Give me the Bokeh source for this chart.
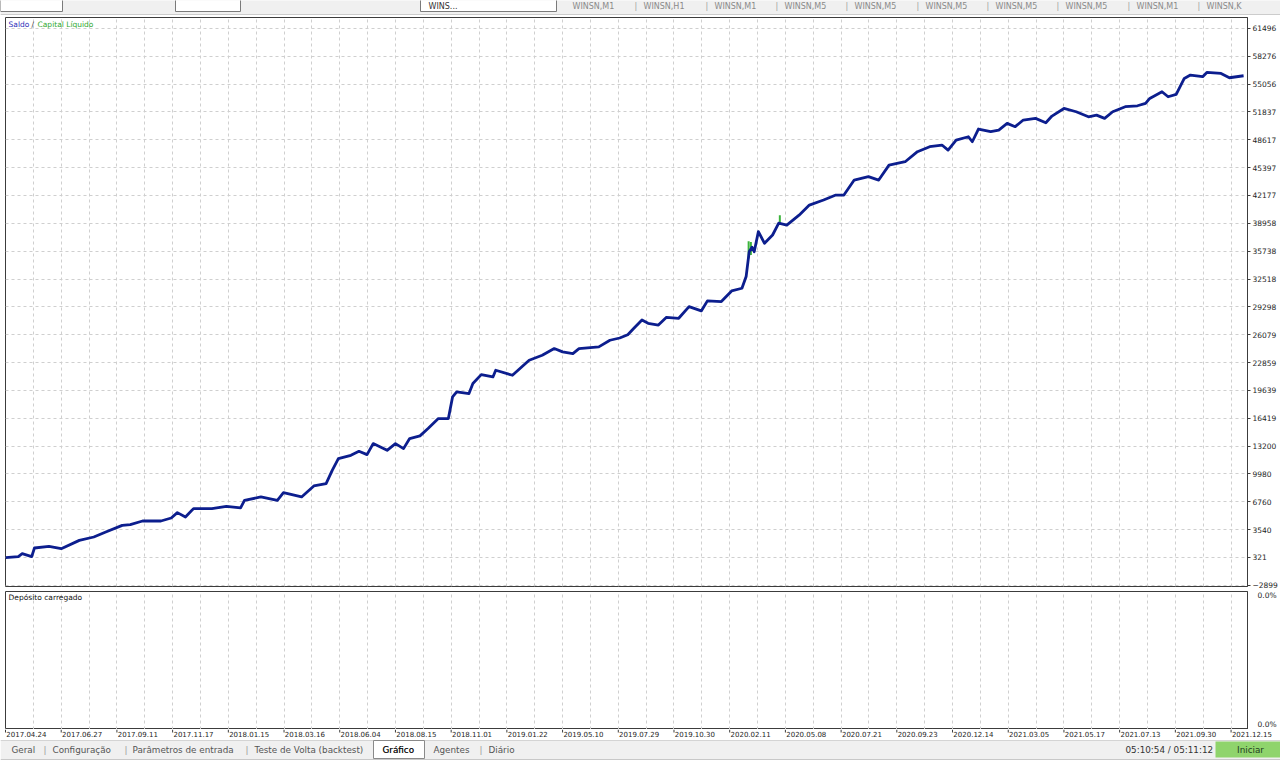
from bokeh.plotting import figure
from bokeh.models import Range1d, FixedTicker
from bokeh.layouts import column
from bokeh.embed import file_html
from bokeh.resources import INLINE
from bokeh.core.properties import value

# ---------------- data ----------------
# position along the test, in grid units (2 units per date label)
posicao = [0.0, 0.46, 0.6, 0.94, 1.04, 1.56, 2.0, 2.65, 3.17, 3.6, 4.19, 4.48, 4.92, 5.58,
           5.95, 6.17, 6.46, 6.75, 7.41, 7.93, 8.44, 8.58, 9.17, 9.76, 9.98, 10.63, 11.07,
           11.51, 11.73, 11.95, 12.4, 12.69, 12.98, 13.2, 13.7, 14.0, 14.29, 14.51, 14.88,
           15.17, 15.54, 15.9, 16.05, 16.2, 16.64, 16.78, 17.08, 17.5, 17.6, 18.2, 18.8,
           19.27, 19.7, 20.0, 20.37, 20.59, 21.3, 21.7, 22.05, 22.34, 22.56, 22.85, 23.07,
           23.44, 23.73, 24.17, 24.54, 24.98, 25.2, 25.7, 26.07, 26.44, 26.59, 26.7, 26.8,
           26.88, 27.03, 27.25, 27.54, 27.76, 28.05, 28.49, 28.86, 29.37, 29.81, 30.1, 30.47,
           30.98, 31.35, 31.72, 32.3, 32.74, 33.18, 33.62, 33.84, 34.13, 34.57, 34.71, 34.93,
           35.37, 35.66, 35.96, 36.25, 36.54, 36.98, 37.35, 37.57, 38.0, 38.44, 38.88, 39.17,
           39.46, 39.75, 40.2, 40.64, 40.93, 41.08, 41.52, 41.74, 42.03, 42.32, 42.54, 42.98,
           43.13, 43.64, 43.94, 44.45]
saldo = [300, 420, 760, 420, 1420, 1600, 1340, 2300, 2690, 3270, 4040, 4120, 4540, 4540,
         4890, 5510, 5000, 5970, 5970, 6240, 6050, 6930, 7320, 6930, 7820, 7320, 8590,
         8860, 10400, 11750, 12140, 12600, 12220, 13490, 12710, 13490, 12910, 14070, 14380,
         15230, 16380, 16380, 18890, 19470, 19270, 20430, 21470, 21200, 21970, 21390, 23130,
         23700, 24480, 24090, 23900, 24480, 24670, 25440, 25700, 26080, 26820, 27780, 27400,
         27200, 28090, 27980, 29330, 28830, 29990, 29910, 31140, 31450, 32800, 35680, 36200,
         35680, 38000, 36650, 37610, 38970, 38760, 39900, 41070, 41650, 42230, 42230, 43960,
         44350, 43960, 45690, 46080, 47240, 47820, 48010, 47430, 48580, 48970, 48390, 49860,
         49550, 49740, 50510, 50130, 50900, 51090, 50590, 51360, 52240, 51860, 51280, 51470,
         51090, 51860, 52440, 52550, 52820, 53400, 54170, 53590, 53860, 55710, 56100, 55910,
         56400, 56290, 55790, 56020]

# equity (Capital Liquido) excursions that show above the balance
capital_pos = [26.68, 26.76, 27.80]
capital_base = [34900, 35300, 38900]
capital_pico = [36900, 36800, 39900]

saldo_ticks = [-2899, 321, 3540, 6760, 9980, 13200, 16419, 19639, 22859, 26079, 29298,
               32518, 35738, 38958, 42177, 45397, 48617, 51837, 55056, 58276, 61496]

datas = ["2017.04.24", "2017.06.27", "2017.09.11", "2017.11.17", "2018.01.15", "2018.03.16",
         "2018.06.04", "2018.08.15", "2018.11.01", "2019.01.22", "2019.05.10", "2019.07.29",
         "2019.10.30", "2020.02.11", "2020.05.08", "2020.07.21", "2020.09.23", "2020.12.14",
         "2021.03.05", "2021.05.17", "2021.07.13", "2021.09.30", "2021.12.15"]
datas_pos = [2 * i for i in range(len(datas))]

carga_ticks = [0, 1]
carga_labels = ["0.0%", "0.0%"]

abas = ["Geral", "Configuração", "Parâmetros de entrada", "Teste de Volta (backtest)",
        "Gráfico", "Agentes", "Diário"]
graficos = ["WINSN,M1", "WINSN,H1", "WINSN,M1", "WINSN,M5", "WINSN,M5", "WINSN,M5",
            "WINSN,M5", "WINSN,M5", "WINSN,M1", "WINSN,K"]

# ---------------- layout / style ----------------
FONT = value("DejaVu Sans")
W = 1280
LB = 5
RB = 33
X_END = 44.59
SC = (W - LB - RB) / X_END          # pixels per grid unit
GRID = "#cfcfcf"
FRAME = "#3c3c3c"
AX_TXT = "#1e1e1e"
UI_TXT = "#555555"

x_range = Range1d(0, X_END)

# ---- top toolbar strip ----
p0 = figure(width=W, height=15, x_range=Range1d(0, W), y_range=Range1d(15, 0),
            output_backend="svg", toolbar_location=None, x_axis_location=None,
            y_axis_location=None, min_border=0)
p0.frame_align = False
p0.outline_line_color = None
p0.grid.visible = False
p0.background_fill_color = "#f0f0f0"
p0.quad(left=[0, 175, 420], right=[62, 240, 556], top=[-2, -2, -2], bottom=[11, 11, 11],
        fill_color="#ffffff", line_color="#7a7a7a")
p0.text(x=[428], y=[6], text=["WINS..."], text_color="#333333", text_font=FONT,
        text_font_size="8px", text_baseline="middle")
gx = [572, 643, 714, 784, 854, 925, 995, 1065, 1136, 1206]
p0.text(x=gx, y=[6] * len(gx), text=graficos, text_color="#8a8a8a", text_font=FONT,
        text_font_size="8px", text_baseline="middle")
p0.text(x=[x - 9 for x in gx[1:]], y=[6] * (len(gx) - 1), text=["|"] * (len(gx) - 1),
        text_color="#a0a0a0", text_font=FONT, text_font_size="8px", text_baseline="middle")
p0.segment(x0=[0], y0=[14.5], x1=[W], y1=[14.5], line_color="#a8a8a8")

# ---- main panel ----
p1 = figure(width=W, height=575, x_range=x_range, y_range=Range1d(-3032, 62756),
            output_backend="svg", toolbar_location=None, x_axis_location=None,
            y_axis_location="right", min_border_left=LB, min_border_right=RB,
            min_border_top=2, min_border_bottom=4)
p1.outline_line_color = FRAME
p1.outline_line_width = 1
ax = p1.yaxis[0]
ax.ticker = FixedTicker(ticks=saldo_ticks)
ax.axis_line_color = FRAME
ax.major_tick_out = 3
ax.major_tick_in = 0
ax.minor_tick_line_color = None
ax.major_tick_line_color = FRAME
ax.major_label_standoff = 2
ax.major_label_text_font = "DejaVu Sans"
ax.major_label_text_font_size = "7.5px"
ax.major_label_text_color = AX_TXT
p1.xgrid.ticker = FixedTicker(ticks=list(range(0, 45)))
p1.ygrid.ticker = FixedTicker(ticks=saldo_ticks)
for g in (p1.xgrid[0], p1.ygrid[0]):
    g.grid_line_color = GRID
    g.grid_line_dash = "3 3"
    g.grid_line_width = 1

p1.segment(x0=capital_pos, y0=capital_base, x1=capital_pos, y1=capital_pico,
           line_color="#3cb43c", line_width=2)
p1.line(posicao, saldo, line_color="#0c1e8e", line_width=2.8, line_join="round")

p1.text(x=[0.11], y=[61900], text=["Saldo"], text_color="#2a2ab8", text_font=FONT,
        text_font_size="7.5px", text_baseline="middle")
p1.text(x=[0.93], y=[61900], text=["/"], text_color="#333333", text_font=FONT,
        text_font_size="7.5px", text_baseline="middle")
p1.text(x=[1.15], y=[61900], text=["Capital Líquido"], text_color="#2ea82e", text_font=FONT,
        text_font_size="7.5px", text_baseline="middle")

# ---- lower panel ----
p2 = figure(width=W, height=139, x_range=x_range, y_range=Range1d(-0.038, 1.030),
            output_backend="svg", toolbar_location=None, x_axis_location=None,
            y_axis_location="right", min_border_left=LB, min_border_right=RB,
            min_border_top=1, min_border_bottom=0)
p2.outline_line_color = FRAME
ax2 = p2.yaxis[0]
ax2.ticker = FixedTicker(ticks=carga_ticks)
ax2.major_label_overrides = {t: l for t, l in zip(carga_ticks, carga_labels)}
ax2.axis_line_color = FRAME
ax2.major_tick_line_color = None
ax2.minor_tick_line_color = None
ax2.major_label_standoff = 4
ax2.major_label_text_font = "DejaVu Sans"
ax2.major_label_text_font_size = "7.5px"
ax2.major_label_text_color = AX_TXT
p2.ygrid.visible = False
p2.xgrid.ticker = FixedTicker(ticks=list(range(0, 45)))
p2.xgrid.grid_line_color = GRID
p2.xgrid.grid_line_dash = "3 3"
p2.text(x=[0.11], y=[0.985], text=["Depósito carregado"], text_color="#111111",
        text_font=FONT, text_font_size="7.5px", text_baseline="middle")

# ---- date labels + tab bar ----
p3 = figure(width=W, height=41, x_range=Range1d(-LB / SC, (W - LB) / SC),
            y_range=Range1d(41, 0), output_backend="svg", toolbar_location=None,
            x_axis_location=None, y_axis_location=None, min_border=0)
p3.frame_align = False
p3.outline_line_color = None
p3.grid.visible = False
p3.extra_x_ranges = {"px": Range1d(0, W)}

p3.segment(x0=datas_pos, y0=[0] * len(datas_pos), x1=datas_pos, y1=[3] * len(datas_pos),
           line_color=FRAME, line_width=1)
p3.text(x=[d + 0.03 for d in datas_pos], y=[4.5] * len(datas), text=datas,
        text_color=AX_TXT, text_font=FONT, text_font_size="7px",
        text_baseline="middle", text_align="left")

# tab bar background
p3.quad(left=[0], right=[W], top=[11], bottom=[30], fill_color="#f0f0f0",
        line_color=None, x_range_name="px")
p3.segment(x0=[0], y0=[11], x1=[W], y1=[11], line_color="#d4d4d4", x_range_name="px")
p3.segment(x0=[0], y0=[30], x1=[W], y1=[30], line_color="#c8c8c8", x_range_name="px")
# selected tab
p3.quad(left=[373], right=[424], top=[11], bottom=[29], fill_color="#ffffff",
        line_color="#8a8a8a", x_range_name="px")
aba_x = [11, 52, 132, 254, 382, 433, 488]
p3.text(x=aba_x, y=[20] * len(abas), text=abas, text_color=UI_TXT, text_font=FONT,
        text_font_size="8.8px", text_baseline="middle", x_range_name="px")
p3.text(x=[382], y=[20], text=["Gráfico"], text_color="#111111", text_font=FONT,
        text_font_size="8.8px", text_baseline="middle", x_range_name="px")
sep_x = [43, 124, 245, 479]
p3.text(x=sep_x, y=[20] * len(sep_x), text=["|"] * len(sep_x), text_color="#9a9a9a",
        text_font=FONT, text_font_size="8.8px", text_baseline="middle", x_range_name="px")
# timer and start button
p3.text(x=[1125], y=[20], text=["05:10:54 / 05:11:12"], text_color="#333333",
        text_font=FONT, text_font_size="8.8px", text_baseline="middle", x_range_name="px")
p3.quad(left=[1215], right=[W], top=[12], bottom=[28], fill_color="#8fd46c",
        line_color=None, x_range_name="px")
p3.text(x=[1250], y=[20], text=["Iniciar"], text_color="#1f3d1f", text_font=FONT,
        text_font_size="8.8px", text_baseline="middle", text_align="center",
        x_range_name="px")

layout = column(p0, p1, p2, p3, spacing=0)
open("out.html", "w").write(file_html(layout, INLINE))
